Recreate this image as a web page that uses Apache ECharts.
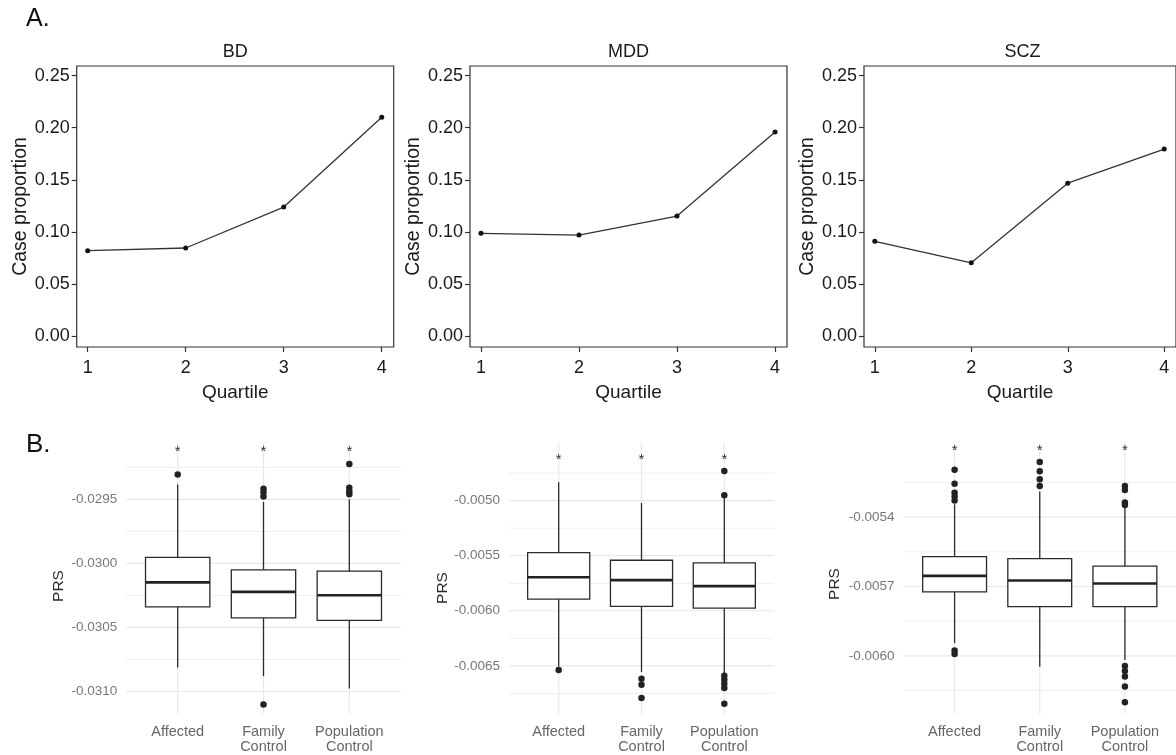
<!DOCTYPE html>
<html>
<head>
<meta charset="utf-8">
<script src="https://cdn.jsdelivr.net/npm/echarts@6/dist/echarts.min.js"></script>
<style>
  html, body { margin: 0; padding: 0; background: #fff; }
  #chart { width: 1176px; height: 755px; }
</style>
</head>
<body>
<div id="chart"></div>
<script>
// ---------- Panel A: case proportion by PRS quartile ----------
const quartiles = [1, 2, 3, 4];
const disorders = ['BD', 'MDD', 'SCZ'];
const caseBD  = [0.0819, 0.0845, 0.1238, 0.2100];
const caseMDD = [0.0986, 0.0969, 0.1152, 0.1960];
const caseSCZ = [0.0909, 0.0703, 0.1468, 0.1795];
const proportionTicks = [0, 0.05, 0.10, 0.15, 0.20, 0.25];

// ---------- Panel B: PRS by group ----------
// each row: [lower whisker, Q1, median, Q3, upper whisker]
const groups = ['Affected', 'Family\nControl', 'Population\nControl'];

const boxBD = [
  [-0.030813, -0.030339, -0.030148, -0.029953, -0.029383],
  [-0.030880, -0.030425, -0.030222, -0.030050, -0.029519],
  [-0.030977, -0.030445, -0.030248, -0.030060, -0.029500]
];
const outBD = [
  [-0.029305],
  [-0.029417, -0.029445, -0.029477, -0.031102],
  [-0.029224, -0.029409, -0.029438, -0.029461]
];
const starBD = -0.02910;
const ticksBD = [-0.0295, -0.0300, -0.0305, -0.0310];
const minorBD = [-0.02925, -0.02975, -0.03025, -0.03075];

const boxMDD = [
  [-0.006506, -0.005895, -0.005695, -0.005472, -0.004833],
  [-0.006557, -0.005961, -0.005722, -0.005541, -0.005021],
  [-0.006566, -0.005976, -0.005776, -0.005565, -0.004978]
];
const outMDD = [
  [-0.006538],
  [-0.006618, -0.006672, -0.006793],
  [-0.004731, -0.004951, -0.006590, -0.006627, -0.006663, -0.006702, -0.006844]
];
const starMDD = -0.004594;
const ticksMDD = [-0.0050, -0.0055, -0.0060, -0.0065];
const minorMDD = [-0.00475, -0.00525, -0.00575, -0.00625, -0.00675];

const boxSCZ = [
  [-0.005945, -0.005723, -0.005654, -0.005571, -0.005344],
  [-0.006047, -0.005787, -0.005674, -0.005579, -0.005289],
  [-0.006018, -0.005787, -0.005687, -0.005612, -0.005354]
];
const outSCZ = [
  [-0.005195, -0.005255, -0.005294, -0.005311, -0.005328, -0.005977, -0.005992],
  [-0.005161, -0.005201, -0.005236, -0.005265],
  [-0.005265, -0.005282, -0.005337, -0.005347, -0.006044, -0.006066, -0.006090, -0.006133, -0.006201]
];
const starSCZ = -0.005099;
const ticksSCZ = [-0.0054, -0.0057, -0.0060];
const minorSCZ = [-0.00525, -0.00555, -0.00585, -0.00615];

// ---------- layout ----------
const FONT = '"Liberation Sans", Arial, Helvetica, sans-serif';
const INK = '#1a1a1a';
const BOX_HALF = 0.375;

const topPanels = [
  { name: disorders[0], values: caseBD,  left: 76.7 },
  { name: disorders[1], values: caseMDD, left: 470 },
  { name: disorders[2], values: caseSCZ, left: 864 }
];
const TOP = { top: 66, width: 317, height: 281, xMin: 0.888, xMax: 4.122, yMin: -0.0106, yMax: 0.2593 };

const bottomPanels = [
  { box: boxBD,  out: outBD,  star: starBD,  ticks: ticksBD,  minor: minorBD,  left: 126.2, width: 274.6, yMin: -0.031174, yMax: -0.029060, prsX: 58.3, prsY: 586 },
  { box: boxMDD, out: outMDD, star: starMDD, ticks: ticksMDD, minor: minorMDD, left: 509,   width: 265,   yMin: -0.006936, yMax: -0.004476, prsX: 443,  prsY: 588 },
  { box: boxSCZ, out: outSCZ, star: starSCZ, ticks: ticksSCZ, minor: minorSCZ, left: 903.5, width: 274.7, yMin: -0.006251, yMax: -0.005079, prsX: 835,  prsY: 584 }
];
const BOT = { top: 443, height: 271 };

const grid = [], xAxis = [], yAxis = [], series = [], graphic = [];

// Panel A grids
topPanels.forEach((p, i) => {
  grid.push({ left: p.left, top: TOP.top, width: TOP.width, height: TOP.height,
    show: true, borderColor: '#333', borderWidth: 1.2, backgroundColor: 'transparent' });
  xAxis.push({
    type: 'value', gridIndex: i, min: TOP.xMin, max: TOP.xMax, position: 'bottom',
    name: 'Quartile', nameLocation: 'middle', nameGap: 36,
    nameTextStyle: { fontFamily: FONT, fontSize: 19, color: INK },
    axisLine: { show: false, onZero: false },
    axisTick: { show: true, inside: false, customValues: quartiles, length: 5, lineStyle: { color: '#333', width: 1.2 } },
    axisLabel: { customValues: quartiles, margin: 12, fontFamily: FONT, fontSize: 18, color: INK, formatter: v => String(v) },
    splitLine: { show: false }
  });
  yAxis.push({
    type: 'value', gridIndex: i, min: TOP.yMin, max: TOP.yMax, position: 'left',
    name: 'Case proportion', nameLocation: 'middle', nameGap: 40.5,
    nameTextStyle: { fontFamily: FONT, fontSize: 19.5, color: INK },
    axisLine: { show: false, onZero: false },
    axisTick: { show: true, inside: false, customValues: proportionTicks, length: 5, lineStyle: { color: '#333', width: 1.2 } },
    axisLabel: { customValues: proportionTicks, margin: 7, fontFamily: FONT, fontSize: 18, color: INK, formatter: v => v.toFixed(2) },
    splitLine: { show: false }
  });
  series.push({
    type: 'line', xAxisIndex: i, yAxisIndex: i,
    data: quartiles.map((q, k) => [q, p.values[k]]),
    symbol: 'circle', symbolSize: 5, showSymbol: true,
    itemStyle: { color: '#111' },
    lineStyle: { color: '#333', width: 1.3 },
    animation: false, silent: true
  });
  graphic.push({ type: 'text', x: p.left + TOP.width / 2, y: 52.5,
    style: { text: p.name, font: '18px ' + FONT, fill: INK, textAlign: 'center', textVerticalAlign: 'middle' } });
});

// Panel B: grid lines (kind 0 = major horizontal, 1 = minor horizontal, 2 = vertical)
function renderGridLine(params, api) {
  const cs = params.coordSys;
  const kind = api.value(0);
  const v = api.value(1);
  if (kind === 2) {
    const x = api.coord([v, 0])[0];
    return { type: 'line', shape: { x1: x, y1: cs.y, x2: x, y2: cs.y + cs.height },
      style: { stroke: '#e8e8e8', lineWidth: 1.2 } };
  }
  const y = api.coord([1, v])[1];
  return { type: 'line', shape: { x1: cs.x, y1: y, x2: cs.x + cs.width, y2: y },
    style: { stroke: kind === 0 ? '#e8e8e8' : '#efefef', lineWidth: kind === 0 ? 1.2 : 1 } };
}

// Panel B box rendering through the axes' scales
function renderBox(params, api) {
  const x = api.value(0);
  const lo = api.coord([x, api.value(1)]);
  const q1 = api.coord([x, api.value(2)]);
  const md = api.coord([x, api.value(3)]);
  const q3 = api.coord([x, api.value(4)]);
  const hi = api.coord([x, api.value(5)]);
  const l = api.coord([x - BOX_HALF, api.value(3)])[0];
  const r = api.coord([x + BOX_HALF, api.value(3)])[0];
  const stroke = { stroke: '#2b2b2b', lineWidth: 1.3, fill: null };
  return {
    type: 'group',
    children: [
      { type: 'line', shape: { x1: lo[0], y1: lo[1], x2: q1[0], y2: q1[1] }, style: stroke },
      { type: 'line', shape: { x1: q3[0], y1: q3[1], x2: hi[0], y2: hi[1] }, style: stroke },
      { type: 'rect', shape: { x: l, y: q3[1], width: r - l, height: q1[1] - q3[1] },
        style: { fill: '#fff', stroke: '#2b2b2b', lineWidth: 1.3 } },
      { type: 'line', shape: { x1: l, y1: md[1], x2: r, y2: md[1] }, style: { stroke: '#222', lineWidth: 2.6 } }
    ]
  };
}

// significance asterisks above each group
function renderStar(params, api) {
  const pt = api.coord([api.value(0), api.value(1)]);
  return { type: 'text', x: pt[0], y: pt[1] + 3.5,
    style: { text: '*', font: '15px ' + FONT, fill: '#333', textAlign: 'center', textVerticalAlign: 'middle' } };
}

const groupPos = [1, 2, 3];

bottomPanels.forEach((p, j) => {
  const i = j + 3;
  grid.push({ left: p.left, top: BOT.top, width: p.width, height: BOT.height, show: false });
  xAxis.push({
    type: 'value', gridIndex: i, min: 0.4, max: 3.6, position: 'bottom',
    axisLine: { show: false, onZero: false }, axisTick: { show: false },
    axisLabel: { customValues: groupPos, margin: 10, fontFamily: FONT, fontSize: 14.5, lineHeight: 15.6,
      color: '#666', formatter: v => groups[Math.round(v) - 1] },
    splitLine: { show: false }
  });
  yAxis.push({
    type: 'value', gridIndex: i, min: p.yMin, max: p.yMax, position: 'left',
    axisLine: { show: false, onZero: false }, axisTick: { show: false },
    axisLabel: { customValues: p.ticks, margin: 9, fontFamily: FONT, fontSize: 13.5, color: '#777',
      formatter: v => v.toFixed(4) },
    splitLine: { show: false }
  });

  const lines = [];
  p.minor.forEach(v => lines.push([1, v]));
  p.ticks.forEach(v => lines.push([0, v]));
  groupPos.forEach(v => lines.push([2, v]));
  series.push({
    type: 'custom', xAxisIndex: i, yAxisIndex: i, z: 1, silent: true, animation: false,
    renderItem: renderGridLine, encode: { x: -1, y: -1 }, data: lines
  });

  series.push({
    type: 'custom', xAxisIndex: i, yAxisIndex: i, z: 2, silent: true, animation: false,
    renderItem: renderBox,
    encode: { x: 0, y: [1, 2, 3, 4, 5] },
    data: p.box.map((b, k) => [groupPos[k]].concat(b))
  });

  const pts = [];
  p.out.forEach((arr, k) => arr.forEach(v => pts.push([groupPos[k], v])));
  series.push({
    type: 'scatter', xAxisIndex: i, yAxisIndex: i, z: 3, silent: true, animation: false,
    symbol: 'circle', symbolSize: 6.5, itemStyle: { color: '#222', opacity: 1 },
    data: pts
  });

  series.push({
    type: 'custom', xAxisIndex: i, yAxisIndex: i, z: 3, silent: true, animation: false,
    renderItem: renderStar, encode: { x: 0, y: 1 },
    data: groupPos.map(x => [x, p.star])
  });

  graphic.push({ type: 'text', x: p.prsX, y: p.prsY, rotation: Math.PI / 2,
    style: { text: 'PRS', font: '15.5px ' + FONT, fill: '#2a2a2a', textAlign: 'center', textVerticalAlign: 'middle' } });
});

graphic.push({ type: 'text', x: 26, y: 19,
  style: { text: 'A.', font: '25px ' + FONT, fill: '#111', textAlign: 'left', textVerticalAlign: 'middle' } });
graphic.push({ type: 'text', x: 26, y: 445,
  style: { text: 'B.', font: '26px ' + FONT, fill: '#111', textAlign: 'left', textVerticalAlign: 'middle' } });

const chart = echarts.init(document.getElementById('chart'), null, { renderer: 'canvas' });
chart.setOption({
  backgroundColor: '#fff',
  animation: false,
  grid, xAxis, yAxis, series, graphic
});
</script>
</body>
</html>
